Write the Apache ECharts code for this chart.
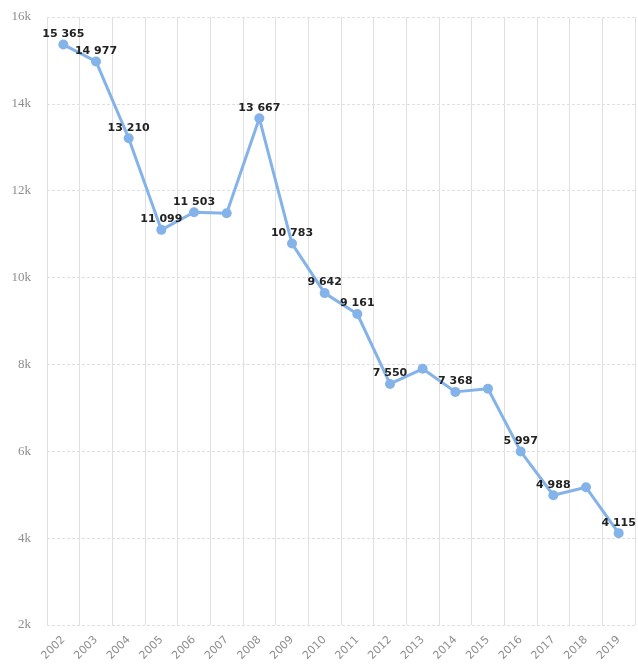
<!DOCTYPE html>
<html>
<head>
<meta charset="utf-8">
<script src="https://cdn.jsdelivr.net/npm/echarts@6/dist/echarts.min.js"></script>
<style>
  html, body { margin: 0; padding: 0; background: #fff; }
  #chart { width: 638px; height: 664px; }
</style>
</head>
<body>
<div id="chart"></div>
<script>
// Yearly values
const years = ['2002','2003','2004','2005','2006','2007','2008','2009','2010',
               '2011','2012','2013','2014','2015','2016','2017','2018','2019'];
const values = [15365, 14977, 13210, 11099, 11503, 11480, 13667, 10783, 9642,
                9161, 7550, 7900, 7368, 7440, 5997, 4988, 5170, 4115];
// Years whose value is printed above the point
const labelledYears = ['2002','2003','2004','2005','2006','2008','2009','2010',
                       '2011','2012','2014','2016','2017','2019'];
const yTicks = [2000, 4000, 6000, 8000, 10000, 12000, 14000, 16000];

const fmtSpace = v => String(v).replace(/\B(?=(\d{3})+(?!\d))/g, ' ');

const seriesData = values.map((v, i) => ({
  value: v,
  label: { show: labelledYears.includes(years[i]) }
}));

const chart = echarts.init(document.getElementById('chart'));
chart.setOption({
  animation: false,
  grid: { left: 47, right: 3, top: 17, bottom: 39, containLabel: false },
  xAxis: {
    type: 'category',
    data: years,
    boundaryGap: true,
    axisLine: { show: false },
    axisTick: { show: false },
    axisLabel: {
      rotate: 45,
      color: '#8e8e8e',
      fontSize: 11,
      fontFamily: 'DejaVu Sans',
      margin: 13,
      interval: 0
    },
    splitLine: { show: true, lineStyle: { color: '#e0e0e0', width: 1 } }
  },
  yAxis: {
    type: 'value',
    min: yTicks[0],
    max: yTicks[yTicks.length - 1],
    interval: 2000,
    axisLine: { show: false },
    axisTick: { show: false },
    axisLabel: {
      color: '#8e8e8e',
      fontSize: 13,
      fontFamily: 'Liberation Serif',
      margin: 16,
      formatter: v => (v / 1000) + 'k'
    },
    splitLine: { show: true, lineStyle: { color: '#e0e0e0', width: 1, type: [3, 2] } }
  },
  series: [{
    type: 'line',
    data: seriesData,
    symbol: 'circle',
    symbolSize: 10,
    lineStyle: { color: '#84b3ea', width: 3 },
    itemStyle: { color: '#84b3ea' },
    label: {
      position: 'top',
      distance: 0,
      color: '#222',
      fontSize: 11,
      fontWeight: 'bold',
      fontFamily: 'DejaVu Sans',
      formatter: p => fmtSpace(p.value)
    }
  }]
});
</script>
</body>
</html>
